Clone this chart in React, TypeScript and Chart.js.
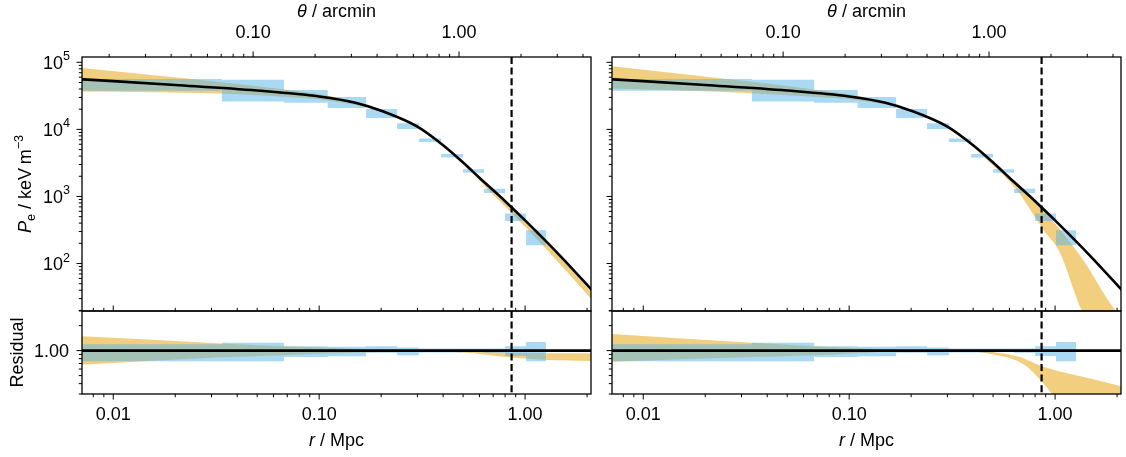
import React, { useEffect, useRef } from 'react';
import { Chart, registerables } from 'chart.js';

Chart.register(...registerables);

// ---------------- data ----------------
// radial bin edges of the binned pressure data (Mpc)
const binEdges = [0.005, 0.0337, 0.0675, 0.11, 0.169, 0.239, 0.305, 0.391, 0.5, 0.632, 0.8, 1.011, 1.265];
// binned pressure, upper / lower edge of each box (keV m^-3)
const dataHigh = [56400, 55000, 38600, 30400, 20100, 12300, 7300, 4280, 2550, 1300, 557, 314];
const dataLow = [37700, 26000, 24900, 20800, 14800, 10100, 6500, 3820, 2250, 1130, 432, 188];
// residual of each box
const residHigh = [1.19, 1.24, 1.13, 1.11, 1.13, 1.09, 1.06, 1.06, 1.06, 1.06, 1.13, 1.27];
const residLow = [0.746, 0.746, 0.84, 0.856, 0.94, 0.88, 0.95, 0.95, 0.97, 0.94, 0.86, 0.746];

// reference model (black line)
const modelR = [0.0065, 0.01, 0.02, 0.05, 0.1, 0.15, 0.2, 0.3, 0.4, 0.5, 0.6, 0.8, 1.0, 1.5, 2.2];
const modelP = [56500, 52500, 46000, 38000, 31000, 25000, 19000, 11000, 5800, 3200, 1900, 850, 440, 125, 35];

// fitted band, left panel
const bandLeftR = [0.0065, 0.0337, 0.0675, 0.11, 0.2, 0.35, 0.5, 0.7, 0.88, 1.0, 1.4, 2.2];
const bandLeftUp = [84000, 50400, 39300, 31700, 19600, 7900, 3170, 1170, 610, 414, 146, 32];
const bandLeftLo = [37000, 34300, 30600, 27000, 18300, 7700, 3040, 1060, 530, 352, 118, 25];
// fitted band, right panel
const bandRightR = [0.0065, 0.0337, 0.0675, 0.11, 0.2, 0.35, 0.5, 0.645, 0.88, 1.05, 1.35, 1.97, 2.3];
const bandRightUp = [90000, 51200, 39300, 31500, 19400, 7800, 3100, 1650, 620, 330, 120, 19.6, 12];
const bandRightLo = [41000, 34700, 30600, 27300, 18800, 7600, 2900, 1300, 314, 150, 19.6, 3, 2];

// residual band, left panel
const resBandLeftR = [0.0065, 0.0337, 0.0675, 0.11, 0.2, 0.33, 0.5, 0.88, 1.3, 2.2];
const resBandLeftUp = [1.5, 1.22, 1.13, 1.08, 1.03, 1.01, 0.99, 0.94, 0.93, 0.93];
const resBandLeftLo = [0.67, 0.83, 0.88, 0.92, 0.965, 0.985, 0.95, 0.82, 0.77, 0.75];
// residual band, right panel
const resBandRightR = [0.0065, 0.0337, 0.0675, 0.11, 0.2, 0.35, 0.5, 0.68, 0.8, 0.88, 1.0, 1.38, 2.3];
const resBandRightUp = [1.6, 1.24, 1.13, 1.07, 1.02, 1.0, 0.96, 0.83, 0.7, 0.64, 0.58, 0.48, 0.35];
const resBandRightLo = [0.73, 0.84, 0.88, 0.93, 0.99, 0.98, 0.9, 0.72, 0.52, 0.4, 0.28, 0.17, 0.1];

const unityR = [0.005, 3];
const unityV = [1, 1];

const rMarker = 0.86; // dashed vertical line (Mpc)
const arcminPerMpc = 2.093;

const rTickValues = [0.01, 0.1, 1];
const rTickLabels = ['0.01', '0.10', '1.00'];
const thetaTickValues = [0.1, 1];
const thetaTickLabels = ['0.10', '1.00'];
const residTickValues = [1];
const residTickLabels = ['1.00'];

// ---------------- layout ----------------
const W = 1126;
const H = 457;
const PANELS = [
  { left: 82, right: 591 },
  { left: 612, right: 1121 },
];
const MAIN_TOP = 57;
const MAIN_BOTTOM = 311;
const RES_BOTTOM = 394;
const X_MIN = 0.00705;
const X_MAX = 2.09;
const Y_MIN = 19.6;
const Y_MAX = 1.2e5;
const R_MIN = 0.3;
const R_MAX = 3;

const ORANGE = 'rgba(230,159,0,0.5)';
const BLUE = 'rgba(86,180,233,0.5)';
const FONT = '"Liberation Sans", Arial, sans-serif';
const FS = 18;
const MAJ = 5.5;
const MIN = 3.2;

function font(size: number, italic = false) {
  return `${italic ? 'italic ' : ''}${size}px ${FONT}`;
}

type Part = { t: string; size: number; italic?: boolean; dy?: number };

function drawRich(ctx: CanvasRenderingContext2D, parts: Part[], x: number, y: number, align: 'left' | 'center' | 'right') {
  let w = 0;
  for (const p of parts) {
    ctx.font = font(p.size, p.italic);
    w += ctx.measureText(p.t).width;
  }
  let cx = align === 'left' ? x : align === 'center' ? x - w / 2 : x - w;
  ctx.textAlign = 'left';
  ctx.textBaseline = 'alphabetic';
  for (const p of parts) {
    ctx.font = font(p.size, p.italic);
    ctx.fillText(p.t, cx, y + (p.dy || 0));
    cx += ctx.measureText(p.t).width;
  }
}

function logTickSets(min: number, max: number) {
  const major: number[] = [];
  const minor: number[] = [];
  for (let d = Math.floor(Math.log10(min)) - 1; d <= Math.ceil(Math.log10(max)); d++) {
    for (let k = 1; k < 10; k++) {
      const v = k * Math.pow(10, d);
      if (v >= min * 0.999 && v <= max * 1.001) (k === 1 ? major : minor).push(v);
    }
  }
  return { major, minor };
}

function line(ctx: CanvasRenderingContext2D, x1: number, y1: number, x2: number, y2: number) {
  ctx.beginPath();
  ctx.moveTo(x1, y1);
  ctx.lineTo(x2, y2);
  ctx.stroke();
}

function pts(rs: number[], vs: number[]) {
  return rs.map((r, i) => ({ x: r, y: vs[i] }));
}

function lineDs(rs: number[], vs: number[], extra: any) {
  return {
    data: pts(rs, vs),
    pointRadius: 0,
    borderWidth: 0,
    borderColor: 'rgba(0,0,0,0)',
    fill: false,
    ...extra,
  };
}

// each box i spans [edges[i], edges[i+1]] at value vals[i]
function stepDs(edges: number[], vals: number[], extra: any) {
  return {
    data: edges.map((r, i) => ({ x: r, y: vals[Math.min(i, vals.length - 1)] })),
    stepped: 'before',
    pointRadius: 0,
    borderWidth: 0,
    borderColor: 'rgba(0,0,0,0)',
    fill: false,
    ...extra,
  };
}

function markerPlugin() {
  return {
    id: 'marker',
    afterDatasetsDraw(chart: any) {
      const { ctx, chartArea } = chart;
      const x = chart.scales.x.getPixelForValue(rMarker);
      ctx.save();
      ctx.strokeStyle = '#000';
      ctx.lineWidth = 2.2;
      ctx.setLineDash([7, 3.6]);
      line(ctx, x, chartArea.top, x, chartArea.bottom);
      ctx.restore();
    },
  };
}

function mainAxesPlugin(panel: number) {
  return {
    id: 'mainAxes',
    afterDraw(chart: any) {
      const { ctx, chartArea: a } = chart;
      const xs = chart.scales.x;
      const ys = chart.scales.y;
      const ts = chart.scales.theta;
      ctx.save();
      ctx.strokeStyle = '#000';
      ctx.fillStyle = '#000';
      ctx.lineWidth = 1;
      const yt = logTickSets(Y_MIN, Y_MAX);
      yt.major.forEach((v) => { const y = ys.getPixelForValue(v); line(ctx, a.left - MAJ, y, a.left, y); });
      yt.minor.forEach((v) => { const y = ys.getPixelForValue(v); line(ctx, a.left - MIN, y, a.left, y); });
      const tt = logTickSets(X_MIN * arcminPerMpc, X_MAX * arcminPerMpc);
      tt.major.forEach((v) => { const x = ts.getPixelForValue(v); line(ctx, x, a.top - MAJ, x, a.top); });
      tt.minor.forEach((v) => { const x = ts.getPixelForValue(v); line(ctx, x, a.top - MIN, x, a.top); });
      const xt = logTickSets(X_MIN, X_MAX);
      xt.major.forEach((v) => { const x = xs.getPixelForValue(v); line(ctx, x, a.bottom - MAJ, x, a.bottom); });
      xt.minor.forEach((v) => { const x = xs.getPixelForValue(v); line(ctx, x, a.bottom - MIN, x, a.bottom); });
      ctx.lineWidth = 1.3;
      ctx.strokeRect(a.left, a.top, a.right - a.left, a.bottom - a.top);
      thetaTickValues.forEach((v, i) => {
        drawRich(ctx, [{ t: thetaTickLabels[i], size: FS }], ts.getPixelForValue(v), 38, 'center');
      });
      const cx = (a.left + a.right) / 2;
      drawRich(ctx, [{ t: 'θ', size: FS, italic: true }, { t: ' / arcmin', size: FS }], cx, 17, 'center');
      if (panel === 0) {
        yt.major.forEach((v) => {
          const y = ys.getPixelForValue(v);
          const e = String(Math.round(Math.log10(v)));
          drawRich(ctx, [{ t: '10', size: FS }, { t: e, size: 12.6, dy: -8.5 }], a.left - 12, y + 6.5, 'right');
        });
        ctx.save();
        ctx.translate(31, (a.top + a.bottom) / 2);
        ctx.rotate(-Math.PI / 2);
        drawRich(
          ctx,
          [
            { t: 'P', size: FS, italic: true },
            { t: 'e', size: 12.6, dy: 4 },
            { t: ' / keV\u2009m', size: FS },
            { t: '\u22123', size: 12.6, dy: -8 },
          ],
          0,
          0,
          'center'
        );
        ctx.restore();
      }
      ctx.restore();
    },
  };
}

function residAxesPlugin(panel: number) {
  return {
    id: 'residAxes',
    afterDraw(chart: any) {
      const { ctx, chartArea: a } = chart;
      const xs = chart.scales.x;
      const ys = chart.scales.y;
      ctx.save();
      ctx.strokeStyle = '#000';
      ctx.fillStyle = '#000';
      ctx.lineWidth = 1;
      const yt = logTickSets(R_MIN, R_MAX);
      yt.major.forEach((v) => { const y = ys.getPixelForValue(v); line(ctx, a.left - MAJ, y, a.left, y); });
      yt.minor.forEach((v) => { const y = ys.getPixelForValue(v); line(ctx, a.left - MIN, y, a.left, y); });
      const xt = logTickSets(X_MIN, X_MAX);
      xt.major.forEach((v) => { const x = xs.getPixelForValue(v); line(ctx, x, a.bottom, x, a.bottom + MAJ); });
      xt.minor.forEach((v) => { const x = xs.getPixelForValue(v); line(ctx, x, a.bottom, x, a.bottom + MIN); });
      ctx.lineWidth = 1.3;
      ctx.strokeRect(a.left, a.top, a.right - a.left, a.bottom - a.top);
      rTickValues.forEach((v, i) => {
        drawRich(ctx, [{ t: rTickLabels[i], size: FS }], xs.getPixelForValue(v), 420, 'center');
      });
      const cx = (a.left + a.right) / 2;
      drawRich(ctx, [{ t: 'r', size: FS, italic: true }, { t: ' / Mpc', size: FS }], cx, 446, 'center');
      if (panel === 0) {
        residTickValues.forEach((v, i) => {
          drawRich(ctx, [{ t: residTickLabels[i], size: FS }], a.left - 13, ys.getPixelForValue(v) + 6.5, 'right');
        });
        ctx.save();
        ctx.translate(23, (a.top + a.bottom) / 2);
        ctx.rotate(-Math.PI / 2);
        drawRich(ctx, [{ t: 'Residual', size: FS }], 0, 0, 'center');
        ctx.restore();
      }
      ctx.restore();
    },
  };
}

function baseOptions(panel: number, top: number, bottom: number, yMin: number, yMax: number, withTheta: boolean) {
  const p = PANELS[panel];
  const scales: any = {
    x: { type: 'logarithmic', min: X_MIN, max: X_MAX, display: false },
    y: { type: 'logarithmic', min: yMin, max: yMax, display: false },
  };
  if (withTheta) {
    scales.theta = {
      type: 'logarithmic',
      axis: 'x',
      position: 'top',
      min: X_MIN * arcminPerMpc,
      max: X_MAX * arcminPerMpc,
      display: false,
    };
  }
  return {
    responsive: false,
    maintainAspectRatio: false,
    animation: false,
    devicePixelRatio: 1,
    events: [],
    layout: { padding: { left: p.left, right: W - p.right, top, bottom: H - bottom } },
    plugins: { legend: { display: false }, tooltip: { enabled: false } },
    scales,
  };
}

function mainConfig(panel: number): any {
  const br = panel === 0 ? bandLeftR : bandRightR;
  const bu = panel === 0 ? bandLeftUp : bandRightUp;
  const bl = panel === 0 ? bandLeftLo : bandRightLo;
  return {
    type: 'line',
    data: {
      datasets: [
        lineDs(br, bu, { fill: '+1', backgroundColor: ORANGE, order: 3, cubicInterpolationMode: 'monotone' }),
        lineDs(br, bl, { order: 3, cubicInterpolationMode: 'monotone' }),
        stepDs(binEdges, dataHigh, { fill: '+1', backgroundColor: BLUE, order: 2 }),
        stepDs(binEdges, dataLow, { order: 2 }),
        lineDs(modelR, modelP, { borderColor: '#000', borderWidth: 2.6, order: 1, cubicInterpolationMode: 'monotone' }),
      ],
    },
    options: baseOptions(panel, MAIN_TOP, MAIN_BOTTOM, Y_MIN, Y_MAX, true),
    plugins: [markerPlugin(), mainAxesPlugin(panel)],
  };
}

function residConfig(panel: number): any {
  const br = panel === 0 ? resBandLeftR : resBandRightR;
  const bu = panel === 0 ? resBandLeftUp : resBandRightUp;
  const bl = panel === 0 ? resBandLeftLo : resBandRightLo;
  return {
    type: 'line',
    data: {
      datasets: [
        lineDs(br, bu, { fill: '+1', backgroundColor: ORANGE, order: 3, cubicInterpolationMode: 'monotone' }),
        lineDs(br, bl, { order: 3, cubicInterpolationMode: 'monotone' }),
        stepDs(binEdges, residHigh, { fill: '+1', backgroundColor: BLUE, order: 2 }),
        stepDs(binEdges, residLow, { order: 2 }),
        lineDs(unityR, unityV, { borderColor: '#000', borderWidth: 2.6, order: 1 }),
      ],
    },
    options: baseOptions(panel, MAIN_BOTTOM, RES_BOTTOM, R_MIN, R_MAX, false),
    plugins: [markerPlugin(), residAxesPlugin(panel)],
  };
}

export default function App() {
  const r0 = useRef<HTMLCanvasElement>(null);
  const r1 = useRef<HTMLCanvasElement>(null);
  const r2 = useRef<HTMLCanvasElement>(null);
  const r3 = useRef<HTMLCanvasElement>(null);
  const refs = [r0, r1, r2, r3];

  useEffect(() => {
    const charts: Chart[] = [];
    [0, 1].forEach((panel) => {
      const cm = refs[panel * 2].current;
      const cr = refs[panel * 2 + 1].current;
      if (cm) charts.push(new Chart(cm, mainConfig(panel)));
      if (cr) charts.push(new Chart(cr, residConfig(panel)));
    });
    return () => charts.forEach((c) => c.destroy());
  }, []);

  return (
    <div style={{ position: 'absolute', left: 0, top: 0, width: W, height: H, background: '#fff' }}>
      {refs.map((r, i) => (
        <canvas
          key={i}
          ref={r}
          width={W}
          height={H}
          style={{ position: 'absolute', left: 0, top: 0, width: W, height: H }}
        />
      ))}
    </div>
  );
}
